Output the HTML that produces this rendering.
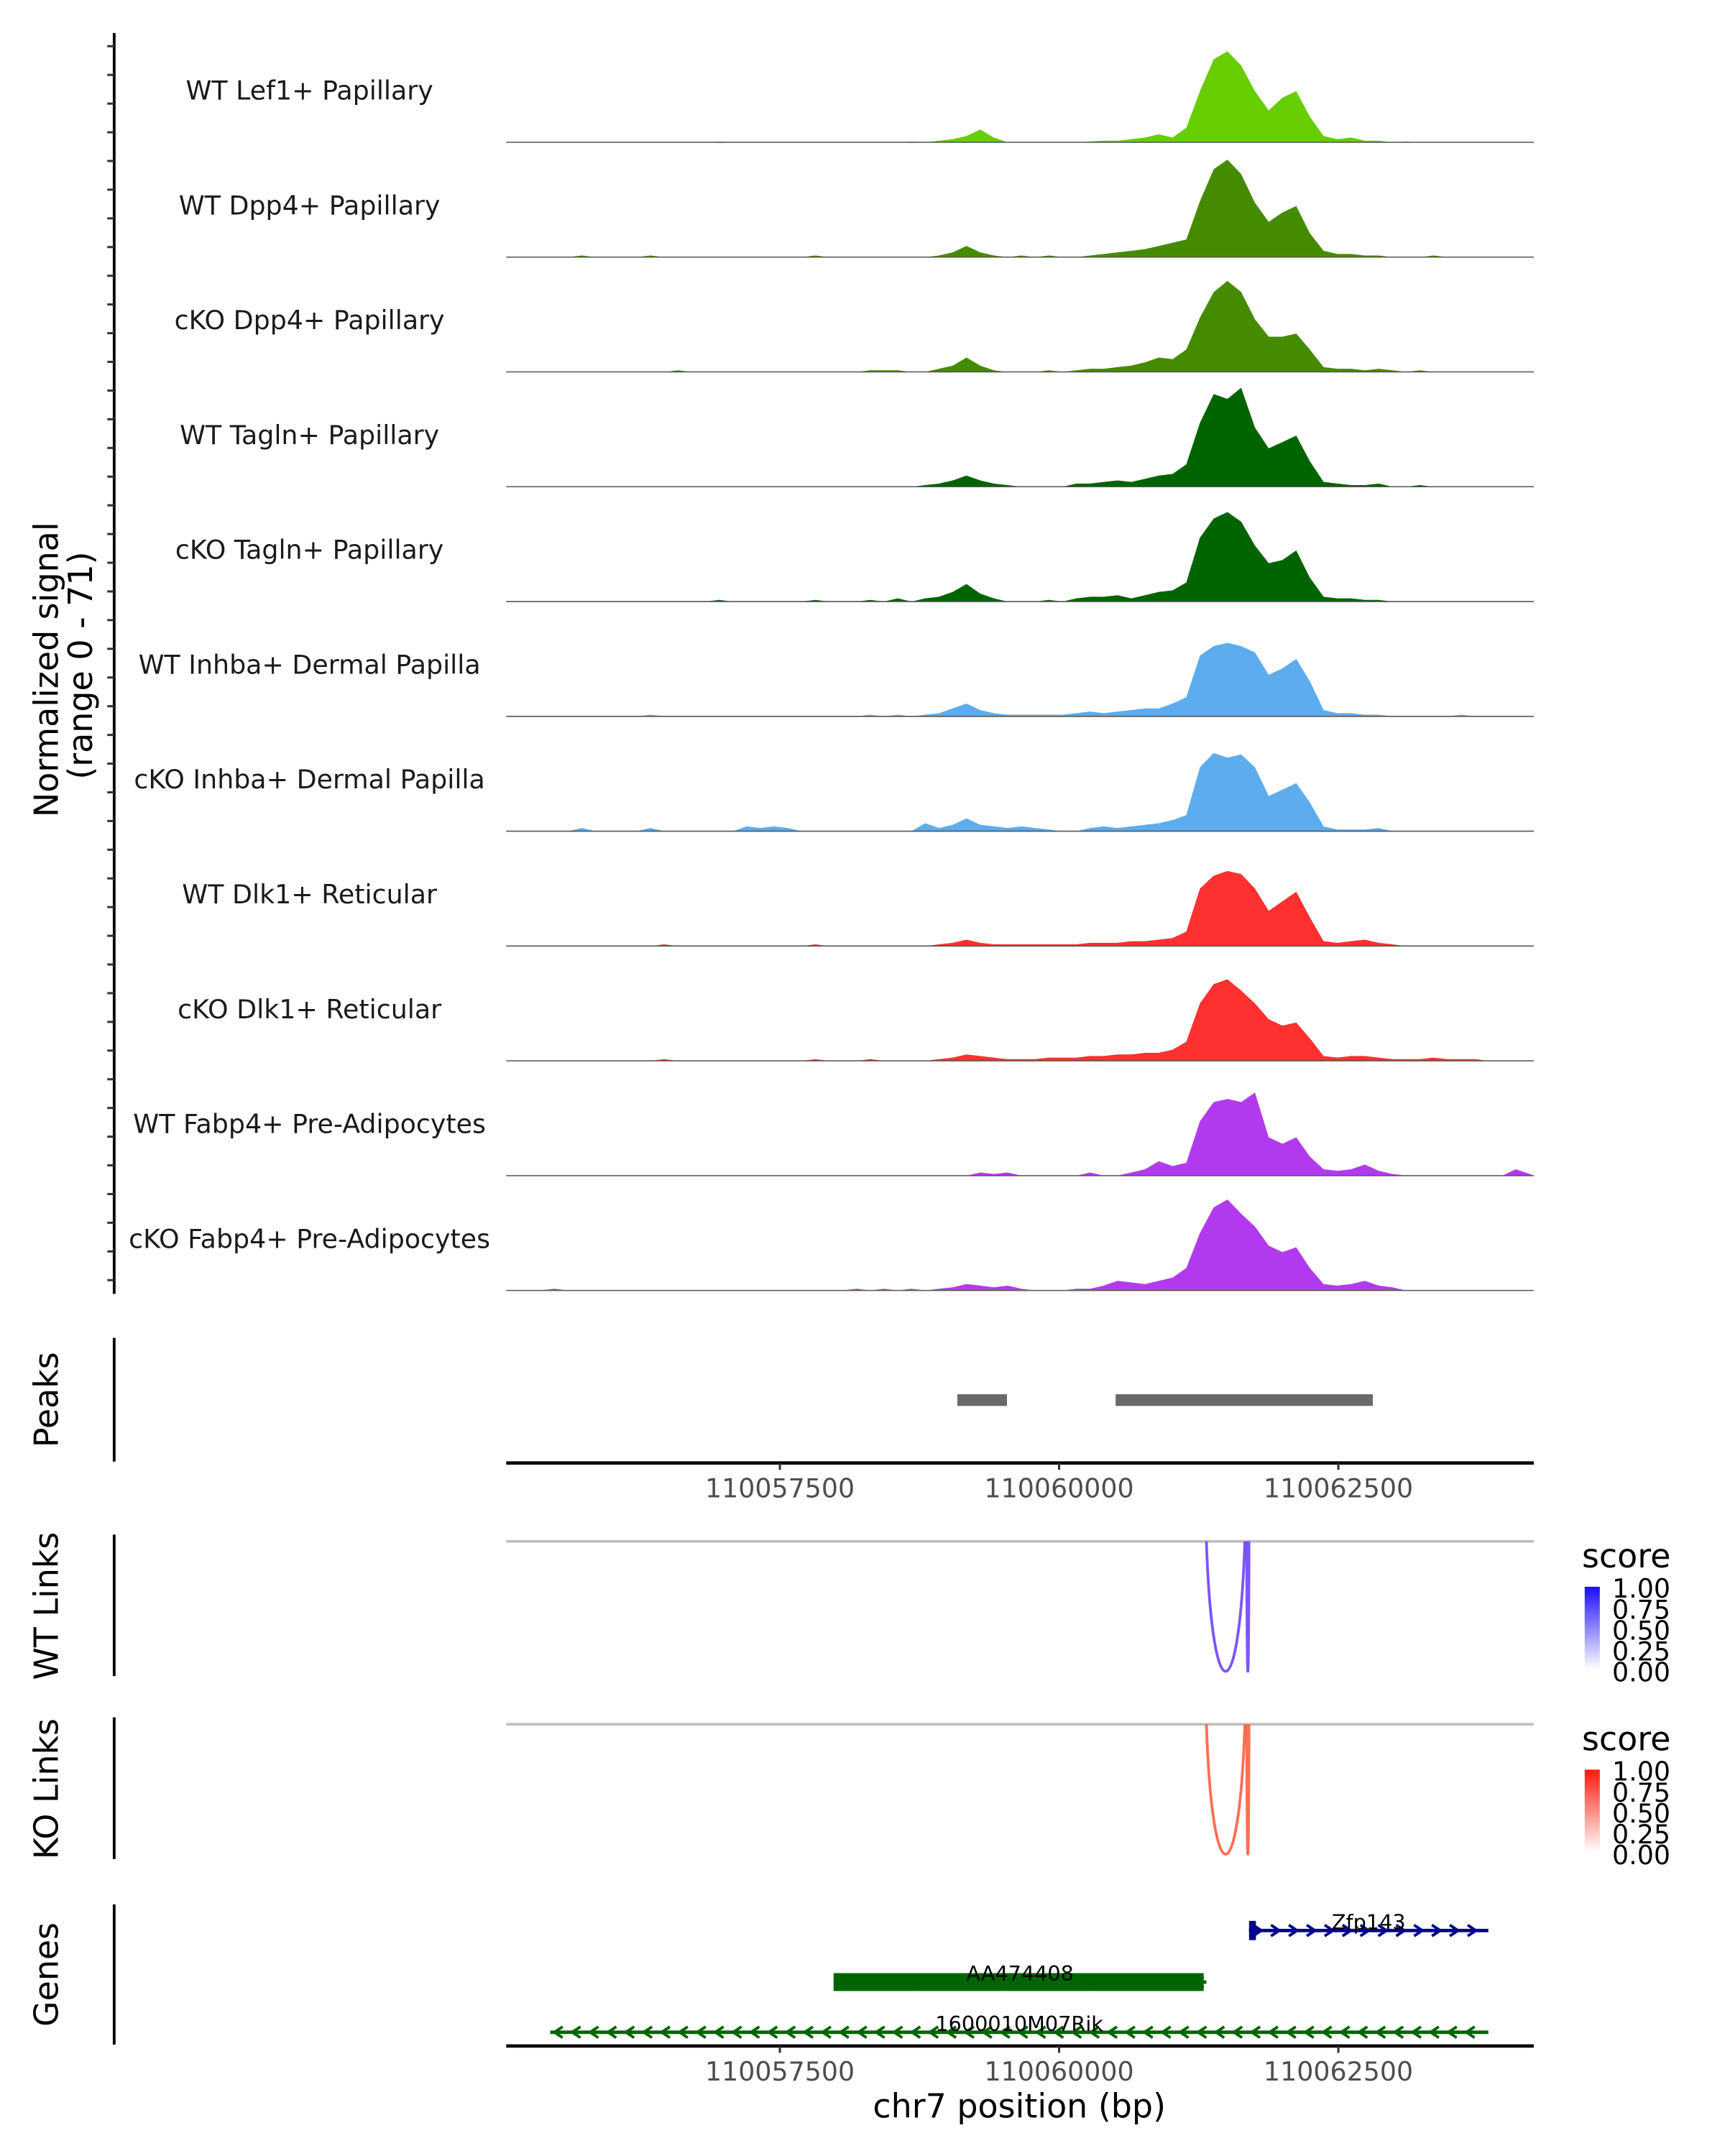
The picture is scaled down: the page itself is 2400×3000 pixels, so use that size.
<!DOCTYPE html>
<html><head><meta charset="utf-8"><title>Coverage plot</title>
<style>
html,body{margin:0;padding:0;background:#fff;}
svg{display:block;font-family:"DejaVu Sans","Liberation Sans",sans-serif;}
</style></head>
<body>
<svg id="chart" xmlns="http://www.w3.org/2000/svg" width="2400" height="3000" viewBox="0 0 1254 1568" preserveAspectRatio="none">
<defs>
<linearGradient id="gBlue" x1="0" y1="1" x2="0" y2="0"><stop offset="0" stop-color="#ffffff"/><stop offset="1" stop-color="#1a0dff"/></linearGradient>
<linearGradient id="gRed" x1="0" y1="1" x2="0" y2="0"><stop offset="0" stop-color="#ffffff"/><stop offset="1" stop-color="#ff1a0d"/></linearGradient>
</defs>
<g id="tracks"></g>
<g id="misc"></g>
</svg>
<script>
// ---------- data ----------
const regionStart = 110055050;
const regionEnd = 110064250;
const binSize = 123;
const yMax = 71;
const trackNames = ["WT Lef1+ Papillary","WT Dpp4+ Papillary","cKO Dpp4+ Papillary","WT Tagln+ Papillary","cKO Tagln+ Papillary","WT Inhba+ Dermal Papilla","cKO Inhba+ Dermal Papilla","WT Dlk1+ Reticular","cKO Dlk1+ Reticular","WT Fabp4+ Pre-Adipocytes","cKO Fabp4+ Pre-Adipocytes"];
const trackColors = ["#66CD00","#458B00","#458B00","#006400","#006400","#5CACEE","#5CACEE","#FF3030","#FF3030","#B23AEE","#B23AEE"];
const sigLef1 = [0,0,0,0,0,0,0,0,0,0, 0,0,0,0,0,0.5,0,0,0,0, 0,0,0,0,0,0,0,0,0,0.5, 0,1,2,4,8,3,0,0,0,0, 0,0,0.5,1,1,2,3,5,3,9, 32,52,57,48,32,20,28,32,16,4, 2,3,1,1,0,0.5,0,0,0,0, 0,0,0,0,0];
const sigWtDpp4 = [0,0,0,0,0,1,0,0,0,0, 1,0,0,0,0,0,0,0,0,0, 0,0,1,0,0,0,0,0,0,0, 0,1,3,7,3,1,0,1,0,1, 0,0,1,2,3,4,5,7,9,11, 35,55,61,52,34,22,28,32,15,4, 2,2,1,1,0,0,0,1,0,0, 0,0,0,0,0];
const sigKoDpp4 = [0,0,0,0,0,0,0,0,0,0, 0,0,1,0,0,0,0,0,0,0, 0,0,0,0,0,0,1,1,1,0, 0,2,4,9,4,1,0,0,0,1, 0,1,2,2,3,4,6,9,8,14, 34,50,57,50,33,22,22,24,14,3, 2,2,1,2,1,0,1,0,0,0, 0,0,0,0,0];
const sigWtTagln = [0,0,0,0,0,0,0,0,0,0, 0,0,0,0,0,0,0,0,0,0, 0,0,0,0,0,0,0,0,0,0, 1,2,4,7,4,2,1,0,0,0, 0,2,2,3,4,3,5,7,8,14, 40,58,55,62,37,24,28,32,16,3, 2,1,1,2,0,0,1,0,0,0, 0,0,0,0,0];
const sigKoTagln = [0,0,0,0,0,0,0,0,0,0, 0,0,0,0,0,1,0,0,0,0, 0,0,1,0,0,0,1,0,2,0, 2,3,6,11,5,2,0,0,0,1, 0,2,3,3,4,2,4,6,7,12, 40,52,56,50,35,24,26,32,15,3, 2,2,1,1,0,0,0,0,0,0, 0,0,0,0,0];
const sigWtInhba = [0,0,0,0,0,0,0,0,0,0, 1,0,0,0,0,0,0,0,0,0, 0,0,0,0,0,0,1,0,1,0, 1,2,5,8,4,2,1,1,1,1, 1,2,3,2,3,4,5,5,8,12, 38,44,46,44,40,26,30,36,22,4, 2,2,1,1,0,0,0,0,0,1, 0,0,0,0,0];
const sigKoInhba = [0,0,0,0,0,2,0,0,0,0, 2,0,0,0,0,0,0,3,2,3, 2,0,0,0,0,0,0,0,0,0, 5,2,4,8,4,3,2,3,2,1, 0,0,2,3,2,3,4,5,7,10, 40,49,46,48,40,22,26,30,18,3, 1,1,1,2,0,0,0,0,0,0, 0,0,0,0,0];
const sigWtDlk1 = [0,0,0,0,0,0,0,0,0,0, 0,1,0,0,0,0,0,0,0,0, 0,0,1,0,0,0,0,0,0,0, 0,1,2,4,2,1,1,1,1,1, 1,1,2,2,2,3,3,4,5,9, 36,44,47,45,36,22,28,34,18,3, 2,3,4,2,1,0,0,0,0,0, 0,0,0,0,0];
const sigKoDlk1 = [0,0,0,0,0,0,0,0,0,0, 0,1,0,0,0,0,0,0,0,0, 0,0,1,0,0,0,1,0,0,0, 0,1,2,4,3,2,1,1,1,2, 2,2,3,3,4,4,5,5,7,12, 36,48,51,44,36,26,22,24,14,3, 2,3,3,2,1,1,1,2,1,1, 1,0,0,0,0];
const sigWtFabp4 = [0,0,0,0,0,0,0,0,0,0, 0,0,0,0,0,0,0,0,0,0, 0,0,0,0,0,0,0,0,0,0, 0,0,0,0,2,1,2,0,0,0, 0,0,2,0,0,2,4,9,6,8, 34,46,48,46,52,24,20,24,12,4, 3,4,7,3,1,0,0,0,0,0, 0,0,0,4,1];
const sigKoFabp4 = [0,0,0,1,0,0,0,0,0,0, 0,0,0,0,0,0,0,0,0,0, 0,0,0,0,0,1,0,1,0,1, 0,1,2,4,3,2,3,1,0,0, 0,1,1,3,6,5,4,6,8,14, 36,52,57,48,40,28,24,27,14,4, 3,4,6,3,2,0,0,0,0,0, 0,0,0,0,0];
const trackSignals = [sigLef1,sigWtDpp4,sigKoDpp4,sigWtTagln,sigKoTagln,sigWtInhba,sigKoInhba,sigWtDlk1,sigKoDlk1,sigWtFabp4,sigKoFabp4];
const peakStarts = [110059089, 110060506];
const peakEnds = [110059533, 110062809];
const axisTicks = [110057500, 110060000, 110062500];
const linkStarts = [110061319, 110061680];
const linkEnds = [110061663, 110061700];
const linkScores = [0.8, 0.8];
const geneNames = ["Zfp143","AA474408","1600010M07Rik"];
const geneStarts = [110061700, 110057981, 110055444];
const geneEnds = [110063843, 110061319, 110063843];
const geneStrands = ["+","-","-"];
const legendLabels = ["1.00","0.75","0.50","0.25","0.00"];

// ---------- helpers ----------
const NS = "http://www.w3.org/2000/svg";
const X0 = 368, X1 = 1115;
function xs(bp){ return X0 + (bp - regionStart) / (regionEnd - regionStart) * (X1 - X0); }
function mk(tag, attrs, parent){ const e = document.createElementNS(NS, tag); for (const k in attrs) e.setAttribute(k, attrs[k]); parent.appendChild(e); return e; }
const tracksG = document.getElementById("tracks");
const misc = document.getElementById("misc");

// ---------- coverage tracks ----------
const trackH = 83.5, firstBase = 103.5;
for (let t = 0; t < trackSignals.length; t++) {
  const base = firstBase + t * trackH;
  const ys = v => base - v / yMax * (trackH - 1);
  const sig = trackSignals[t];
  let d = "M" + X0 + "," + base;
  for (let i = 0; i < sig.length; i++) {
    const cx = xs(regionStart + (i + 0.5) * binSize);
    d += " L" + cx.toFixed(1) + "," + ys(sig[i]).toFixed(1);
  }
  d += " L" + X1 + "," + base + " Z";
  const area = mk("path", {d: d, fill: trackColors[t], stroke: "none"}, tracksG);
  
  
  const bl = mk("line", {x1: X0, x2: X1, y1: base, y2: base, stroke: "#555", "stroke-width": 0.8}, tracksG);
  
  
  const lab = mk("text", {x: 225, y: base - 31, "text-anchor": "middle", "font-size": 19, fill: "#1a1a1a"}, tracksG);
  lab.textContent = trackNames[t];
  
  
}
// left axis
const ax = mk("line", {x1: 83, x2: 83, y1: 24, y2: 941, stroke: "#000", "stroke-width": 2}, misc);


for (let y = 33.6; y < 941; y += 20.87) {
  const tk = mk("line", {x1: 78, x2: 83, y1: y, y2: y, stroke: "#333", "stroke-width": 1.6}, misc);
  
  
}
function vtext(x, y, str, size, name){
  const e = mk("text", {x: x, y: y, "text-anchor": "middle", "font-size": size, fill: "#000", transform: "rotate(-90 " + x + " " + y + ")"}, misc);
  e.textContent = str;
  
  
  return e;
}
vtext(42, 487, "Normalized signal", 24, "y-axis-title");
vtext(67, 484, "(range 0 - 71)", 24, "y-axis-range");

// ---------- peaks ----------
const pax = mk("line", {x1: 83, x2: 83, y1: 973, y2: 1063, stroke: "#000", "stroke-width": 2}, misc);


vtext(42, 1018, "Peaks", 24, "peaks-title");
for (let i = 0; i < peakStarts.length; i++) {
  const r = mk("rect", {x: xs(peakStarts[i]), y: 1014, width: xs(peakEnds[i]) - xs(peakStarts[i]), height: 8.5, fill: "#696969"}, misc);
  
  
}
function bottomAxis(y, name){
  const l = mk("line", {x1: X0, x2: X1, y1: y, y2: y, stroke: "#000", "stroke-width": 2.4}, misc);
  
  
  for (const t of axisTicks) {
    const tk = mk("line", {x1: xs(t), x2: xs(t), y1: y, y2: y + 5, stroke: "#333", "stroke-width": 1.6}, misc);
    
    
    const tl = mk("text", {x: xs(t), y: y + 25, "text-anchor": "middle", "font-size": 19, fill: "#4d4d4d"}, misc);
    tl.textContent = t;
    
    
  }
}
bottomAxis(1064, "peaks-x-axis");

// ---------- links ----------
function linkPanel(top, title, color, grad, name){
  const a = mk("line", {x1: 83, x2: 83, y1: top - 5, y2: top + 98, stroke: "#000", "stroke-width": 2}, misc);
  
  
  vtext(42, top + 47, title, 24, name + '-title');
  const g = mk("line", {x1: X0, x2: X1, y1: top, y2: top, stroke: "#bebebe", "stroke-width": 2}, misc);
  
  
  for (let i = 0; i < linkStarts.length; i++) {
    const s = xs(linkStarts[i]), e = xs(linkEnds[i]), w = e - s;
    const cy = top + 126;
    const p = mk("path", {d: "M" + s + "," + top + " C" + (s + w * 0.15) + "," + cy + " " + (e - w * 0.15) + "," + cy + " " + e + "," + top, fill: "none", stroke: color, "stroke-width": 2, opacity: 0.4 + 0.6 * linkScores[i]}, misc);
    
    
  }
  const lt = mk("text", {x: 1150, y: top + 19, "font-size": 24, fill: "#000"}, misc);
  lt.textContent = "score";
  
  
  const cb = mk("rect", {x: 1152, y: top + 33, width: 11, height: 60, fill: "url(#" + grad + ")"}, misc);
  
  
  for (let i = 0; i < legendLabels.length; i++) {
    const ly = top + 35 + i * 15.2;
    const tl = mk("text", {x: 1172, y: ly + 6, "font-size": 19, fill: "#000"}, misc);
    tl.textContent = legendLabels[i];
    
    
  }
}
linkPanel(1121, "WT Links", "#6a3dff", "gBlue", "wt-links");
linkPanel(1254, "KO Links", "#ff5a3c", "gRed", "ko-links");

// ---------- genes ----------
const gax = mk("line", {x1: 83, x2: 83, y1: 1385, y2: 1487, stroke: "#000", "stroke-width": 2}, misc);


vtext(42, 1436, "Genes", 24, "genes-title");
const geneRows = [1404, 1441.5, 1478];
const geneCols = ["#00008B", "#006400", "#006400"];
const ex1 = mk("rect", {x: 908, y: 1397, width: 5, height: 14, fill: "#00008B"}, misc);


const ex2 = mk("rect", {x: xs(geneStarts[1]), y: 1435, width: xs(geneEnds[1]) - xs(geneStarts[1]) - 2, height: 13, fill: "#006400"}, misc);


for (let i = 0; i < geneNames.length; i++) {
  const s = xs(geneStarts[i]), e = xs(geneEnds[i]), y = geneRows[i], c = geneCols[i];
  const l = mk("line", {x1: s, x2: e, y1: y, y2: y, stroke: c, "stroke-width": 2.5}, misc);
  
  
  const dir = geneStrands[i] === "+" ? 1 : -1;
  for (let x = s + 6; x <= e; x += 13) {
    const ch = mk("path", {d: "M" + (x - 3 * dir) + "," + (y - 4) + " L" + (x + 3 * dir) + "," + y + " L" + (x - 3 * dir) + "," + (y + 4), fill: "none", stroke: c, "stroke-width": 2}, misc);
    
    
  }
  const gl = mk("text", {x: (s + e) / 2, y: y - 1, "text-anchor": "middle", "font-size": 15, fill: "#000"}, misc);
  gl.textContent = geneNames[i];
  
  
}
bottomAxis(1488, "genes-x-axis");
const xt = mk("text", {x: 741, y: 1540, "text-anchor": "middle", "font-size": 24, fill: "#000"}, misc);
xt.textContent = "chr7 position (bp)";


</script>
</body></html>
